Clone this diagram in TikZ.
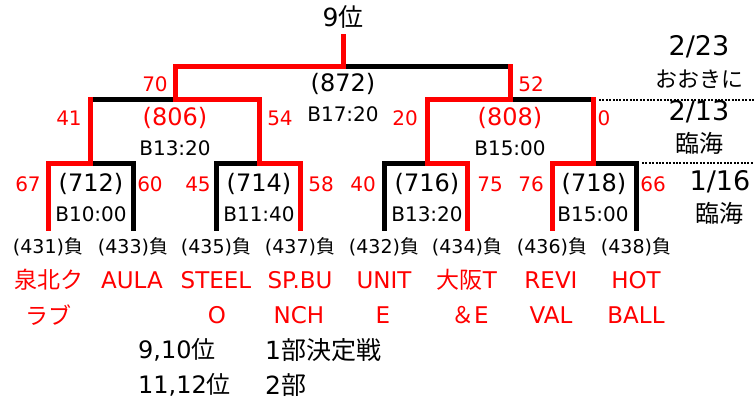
\documentclass[tikz,border=0pt]{standalone}
\usepackage{fontspec}
\setmainfont{DejaVu Sans}
\newfontfamily\cjk{Noto Sans CJK JP}
\begin{document}
\begin{tikzpicture}[x=1pt,y=-1pt,
  wline/.style={line width=5pt, line cap=rect, line join=miter},
  redl/.style={wline, draw=red},
  blkl/.style={wline, draw=black},
  dotl/.style={line width=2pt, dash pattern=on 2pt off 1.4pt, draw=black},
  txt/.style={inner sep=0pt, anchor=center, font=\fontsize{#1}{#1}\selectfont},
  rtxt/.style={txt=#1, text=red}
]
\useasboundingbox (0,0) rectangle (754,409);
% ---- coordinates of the bracket
\coordinate (top) at (343,37);
\coordinate (T) at (343,67);
\coordinate (L1) at (175,67);
\coordinate (R1) at (510,67);
\coordinate (L1b) at (175,100);
\coordinate (R1b) at (510,100);
\coordinate (A) at (90,100);
\coordinate (B) at (259,100);
\coordinate (C) at (427,100);
\coordinate (D) at (593,100);
\coordinate (Ab) at (90,163);
\coordinate (Bb) at (259,163);
\coordinate (Cb) at (427,163);
\coordinate (Db) at (593,163);
\foreach \n/\x in {1/48,2/133,3/216,4/300,5/384,6/467,7/552,8/636}{
  \coordinate (v\n) at (\x,163);
  \coordinate (w\n) at (\x,228);
}
\coordinate (dA) at (599,100);
\coordinate (dAe) at (754,100);
\coordinate (dB) at (642,163);
\coordinate (dBe) at (754,163);
% ---- black lines
\draw[blkl] (T) -- (R1);
\draw[blkl] (A) -- (L1b);
\draw[blkl] (R1b) -- (D);
\draw[blkl] (w2) -- (v2) -- (Ab);
\draw[blkl] (w3) -- (v3) -- (Bb);
\draw[blkl] (w5) -- (v5) -- (Cb);
\draw[blkl] (w8) -- (v8) -- (Db);
% ---- red lines
\draw[redl] (top) -- (T) -- (L1) -- (L1b) -- (B) -- (Bb) -- (v4) -- (w4);
\draw[redl] (w1) -- (v1) -- (Ab) -- (A);
\draw[redl] (R1) -- (R1b) -- (C) -- (Cb) -- (v6) -- (w6);
\draw[redl] (D) -- (Db) -- (v7) -- (w7);
% ---- dotted lines
\draw[dotl] (dA) -- (dAe);
\draw[dotl] (dB) -- (dBe);
% ---- texts
\node[txt=25] (t9) at (343,17) {9{\cjk 位}};
\node[txt=24] (m872) at (343,84) {(872)};
\node[txt=20] (b872) at (343,114) {B17:20};
\node[rtxt=20] (s70) at (155,84) {70};
\node[rtxt=20] (s52) at (531,84) {52};
\node[rtxt=24] (m806) at (175,118) {(806)};
\node[txt=20] (b806) at (175,148) {B13:20};
\node[rtxt=20] (s41) at (69,118) {41};
\node[rtxt=20] (s54) at (280,118) {54};
\node[rtxt=24] (m808) at (510,118) {(808)};
\node[txt=20] (b808) at (510,148) {B15:00};
\node[rtxt=20] (s20) at (405,118) {20};
\node[rtxt=20] (s0) at (604,118) {0};
% level 3
\node[rtxt=20] (s67) at (28,184) {67};
\node[txt=24] (m712) at (91,184) {(712)};
\node[rtxt=20] (s60) at (150,184) {60};
\node[txt=20] (b712) at (91,214) {B10:00};
\node[rtxt=20] (s45) at (198,184) {45};
\node[txt=24] (m714) at (259,184) {(714)};
\node[rtxt=20] (s58) at (321,184) {58};
\node[txt=20] (b714) at (259,214) {B11:40};
\node[rtxt=20] (s40) at (363,184) {40};
\node[txt=24] (m716) at (427,184) {(716)};
\node[rtxt=20] (s75) at (490,184) {75};
\node[txt=20] (b716) at (427,214) {B13:20};
\node[rtxt=20] (s76) at (531,184) {76};
\node[txt=24] (m718) at (594,184) {(718)};
\node[rtxt=20] (s66) at (653,184) {66};
\node[txt=20] (b718) at (593,214) {B15:00};
% losers
\foreach \n/\x/\t in {1/48/431,2/133/433,3/216/435,4/300/437,5/384/432,6/467/434,7/552/436,8/636/438}{
  \node[txt=19] (l\n) at (\x,247) {(\t){\cjk 負}};
}
% team names
\node[rtxt=23] (n1a) at (49,280) {\cjk 泉北ク};
\node[rtxt=23] (n1b) at (48,315) {\cjk ラブ};
\node[rtxt=23] (n2a) at (132,280) {AULA};
\node[rtxt=23] (n3a) at (216,280) {STEEL};
\node[rtxt=23] (n3b) at (217,315) {O};
\node[rtxt=23] (n4a) at (300,280) {SP.BU};
\node[rtxt=23] (n4b) at (299,315) {NCH};
\node[rtxt=23] (n5a) at (384,280) {UNIT};
\node[rtxt=23] (n5b) at (383,315) {E};
\node[rtxt=23] (n6a) at (467,280) {{\cjk 大阪}T};
\node[rtxt=23] (n6b) at (470,315) {{\cjk ＆}E};
\node[rtxt=23] (n7a) at (551,280) {REVI};
\node[rtxt=23] (n7b) at (551,315) {VAL};
\node[rtxt=23] (n8a) at (636,280) {HOT};
\node[rtxt=23] (n8b) at (636,315) {BALL};
% dates
\node[txt=27] (d1) at (699,47) {2/23};
\node[txt=22] (d1p) at (699,79) {\cjk おおきに};
\node[txt=27] (d2) at (699,112) {2/13};
\node[txt=24] (d2p) at (699,143) {\cjk 臨海};
\node[txt=27] (d3) at (720,182) {1/16};
\node[txt=24] (d3p) at (719,213) {\cjk 臨海};
% bottom legend
\node[txt=24, anchor=west] (r1) at (138,350) {9,10{\cjk 位}};
\node[txt=24, anchor=west] (r2) at (138,385) {11,12{\cjk 位}};
\node[txt=25, anchor=west] (k1) at (265,350) {1{\cjk 部決定戦}};
\node[txt=25, anchor=west] (k2) at (265,385) {2{\cjk 部}};
\end{tikzpicture}
\end{document}
